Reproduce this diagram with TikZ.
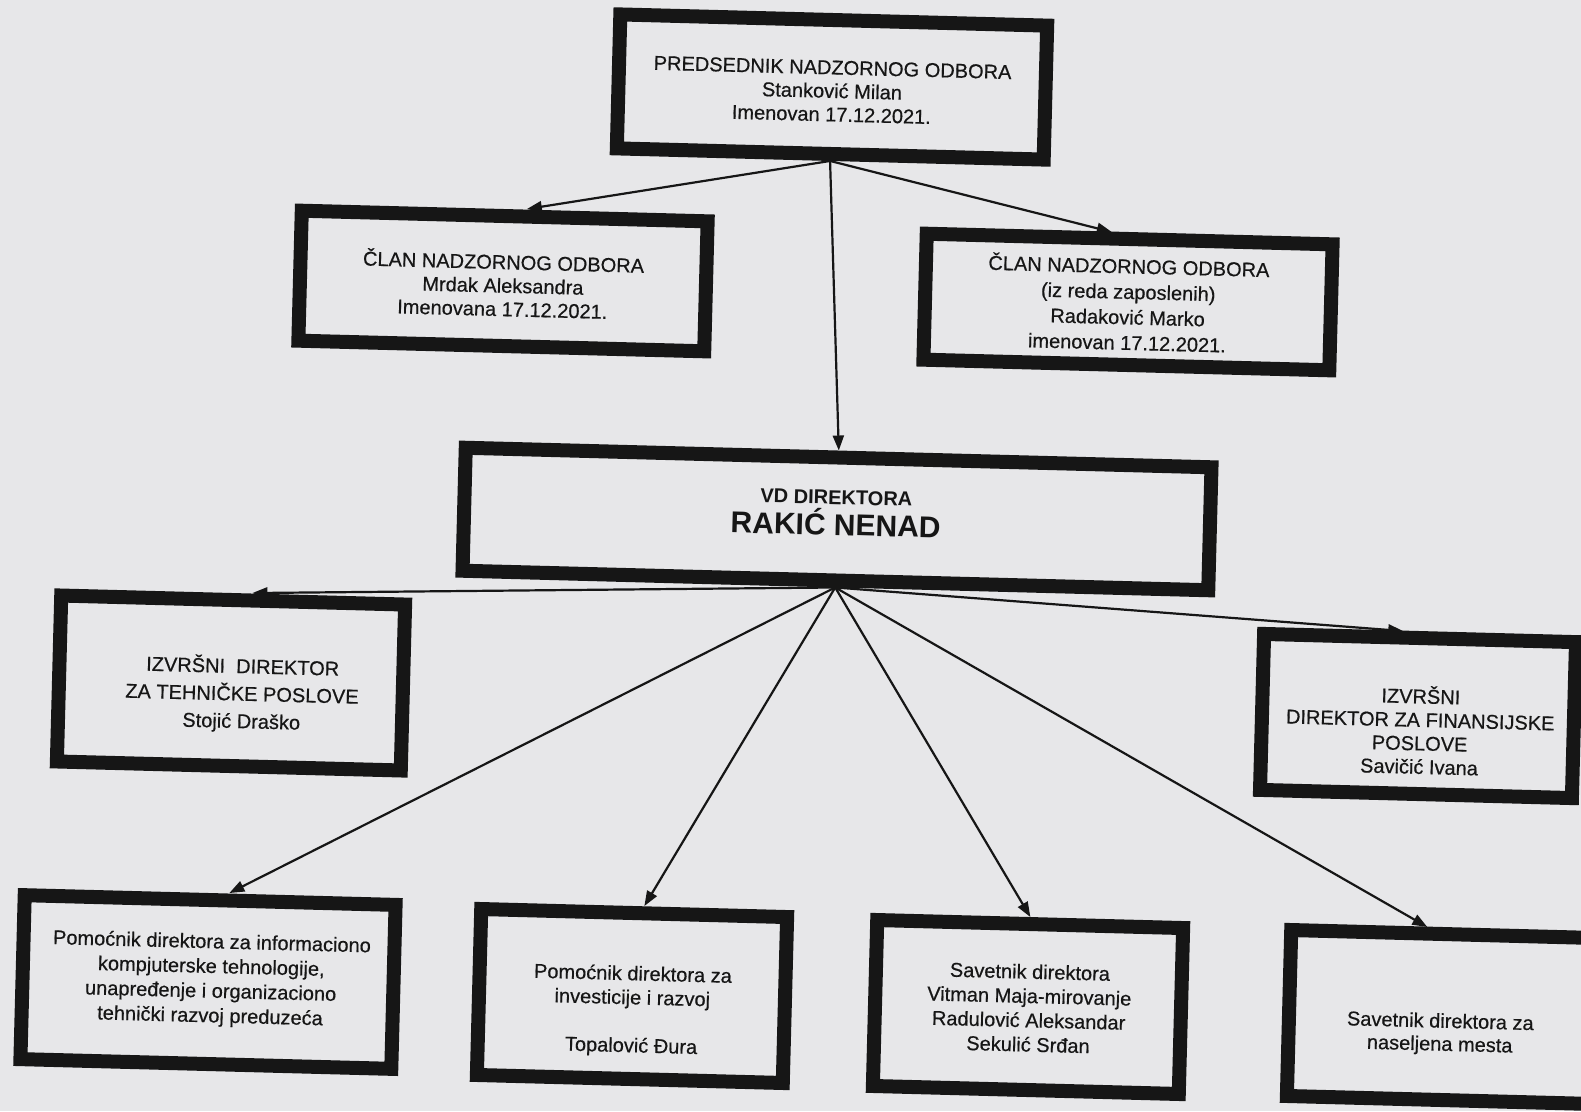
\documentclass[tikz,border=0pt]{standalone}
\usepackage{fontspec}
\setmainfont{Liberation Sans}[UprightFeatures={FakeBold=0.5}]
\usetikzlibrary{arrows.meta,calc}
\definecolor{paper}{RGB}{231,231,233}
\definecolor{ink}{RGB}{22,22,22}
\begin{document}
\begin{tikzpicture}[x=1pt,y=-1pt,
  box/.style={draw=ink, line width=14pt, rotate=-1.5, inner sep=0pt},
  txt/.style={text=ink, align=center, inner sep=0pt, rotate=-1.5},
  f20/.style={font=\fontsize{20}{#1}\selectfont},
  link/.style={draw=ink, line width=2.2pt, -{Triangle[length=15pt,width=11pt]}}]
\fill[paper] (0,0) rectangle (1581,1111);
\useasboundingbox (0,0) rectangle (1581,1111);
\clip (0,0) rectangle (1581,1111);

% boxes
\node[box, minimum width=427pt, minimum height=134pt] (b1) at (832,87) {};
\node[box, minimum width=406pt, minimum height=130pt] (b2) at (503,281) {};
\node[box, minimum width=406pt, minimum height=126pt] (b3) at (1128,302) {};
\node[box, minimum width=746pt, minimum height=123pt] (b4) at (837,519) {};
\node[box, minimum width=344pt, minimum height=166pt] (b5) at (231,683) {};
\node[box, minimum width=312pt, minimum height=156pt] (b6) at (1418,716) {};
\node[box, minimum width=371pt, minimum height=164pt] (b7) at (208,982) {};
\node[box, minimum width=306pt, minimum height=166pt] (b8) at (632,996) {};
\node[box, minimum width=306pt, minimum height=166pt] (b9) at (1028,1007) {};
\node[box, minimum width=306pt, minimum height=166pt] (b10) at (1442,1017) {};

% texts
\node[txt, f20=23.5] (t1) at (832,91) {PREDSEDNIK NADZORNOG ODBORA\\Stanković Milan\\Imenovan 17.12.2021.};
\node[txt, f20=23.5] (t2) at (503,284) {ČLAN NADZORNOG ODBORA\\Mrdak Aleksandra\\Imenovana 17.12.2021.};
\node[txt, f20=25.5] (t3) at (1128,303) {ČLAN NADZORNOG ODBORA\\(iz reda zaposlenih)\\Radaković Marko\\imenovan 17.12.2021.};
\node[txt, font=\fontsize{30}{31}\selectfont\bfseries] (t4) at (836,513) {{\fontsize{20}{24}\selectfont VD DIREKTORA}\\RAKIĆ NENAD};
\node[txt, f20=27.5] (t5) at (242,694) {IZVRŠNI~ DIREKTOR\\ZA TEHNIČKE POSLOVE\\Stojić Draško};
\node[txt, f20=23.5] (t6) at (1420,730) {IZVRŠNI\\DIREKTOR ZA FINANSIJSKE\\POSLOVE\\Savičić Ivana};
\node[txt, f20=24.7] (t7) at (211,980) {Pomoćnik direktora za informaciono\\kompjuterske tehnologije,\\unapređenje i organizaciono\\tehnički razvoj preduzeća};
\node[txt, f20=24] (t8) at (632,1011) {Pomoćnik direktora za\\investicije i razvoj\\[24pt]Topalović Đura};
\node[txt, f20=24.3] (t9) at (1029,1008) {Savetnik direktora\\Vitman Maja-mirovanje\\Radulović Aleksandar\\Sekulić Srđan};
\node[txt, f20=23] (t10) at (1440,1034) {Savetnik direktora za\\naseljena mesta};

% connectors
\draw[link] (b1.south) -- ($(b2.north)+(22,0)$);
\draw[link] (b1.south) -- ($(b3.north)+(-18,0)$);
\draw[link] (b1.south) -- (b4.north);
\draw[link] (b4.south) -- ($(b5.north)+(19,0)$);
\draw[link] (b4.south) -- ($(b6.north)+(-17,0)$);
\draw[link] (b4.south) -- ($(b7.north)+(19,0)$);
\draw[link] (b4.south) -- ($(b8.north)+(10,0)$);
\draw[link] (b4.south) -- (b9.north);
\draw[link] (b4.south) -- ($(b10.north)+(-17,0)$);
\end{tikzpicture}
\end{document}
